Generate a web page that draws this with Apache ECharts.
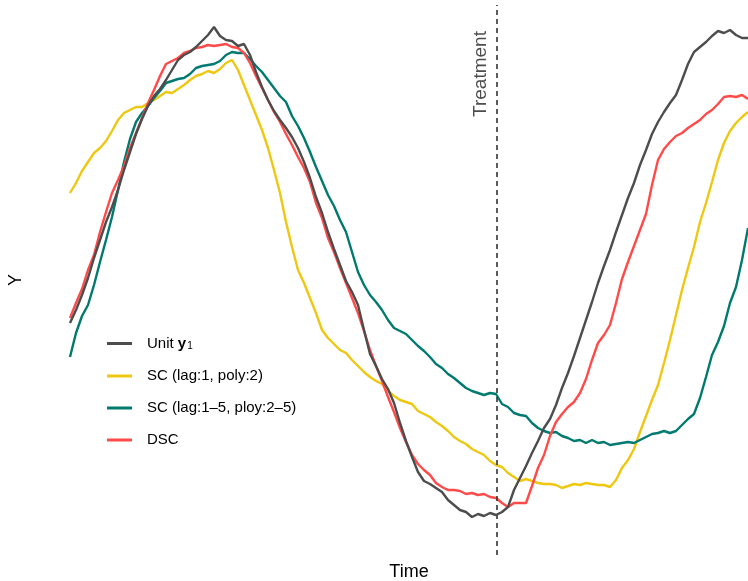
<!DOCTYPE html>
<html>
<head>
<meta charset="utf-8">
<script src="https://cdn.jsdelivr.net/npm/echarts@6/dist/echarts.min.js"></script>
<style>
  html, body { margin: 0; padding: 0; background: #fff; }
  #chart { width: 748px; height: 581px; }
</style>
</head>
<body>
<div id="chart"></div>
<script>
// time index: one step per sample, treatment happens at t ~ 71.2
const timeMax = 113;
const treatmentTime = 71.2;

const seriesNames = ['Unit y1', 'SC (lag:1, poly:2)', 'SC (lag:1\u20135, ploy:2\u20135)', 'DSC'];
const seriesColors = ['#4d4d4d', '#eec710', '#007a70', '#ff4a4a'];

// Unit y1 (observed)
const unitY = [
  232, 245, 260, 277, 297, 315, 333, 348, 365, 385,
  403, 421, 436, 449, 459, 466, 475, 485, 495, 500,
  503, 508, 514, 520, 528, 519, 515, 514, 509, 511,
  500, 483, 468, 455, 444, 435, 427, 418, 407, 393,
  377, 358, 342, 323, 306, 290, 274, 263, 250, 225,
  201, 189, 176, 166, 152, 132, 114, 98, 83, 74,
  71, 67, 63, 55, 50, 45, 43, 38, 41, 39,
  42, 40, 43, 48, 65, 77, 89, 102, 114, 127,
  136, 150, 167, 182, 199, 217, 235, 253, 272, 289,
  305, 323, 340, 357, 372, 390, 405, 421, 433, 443,
  452, 460, 475, 491, 503, 508, 513, 519, 524, 522,
  525, 520, 517, 517
];

// SC (lag:1, poly:2)
const scSimple = [
  362, 372, 384, 393, 402, 407, 414, 424, 435, 442,
  445, 448, 448, 452, 455, 459, 463, 462, 466, 470,
  475, 479, 481, 484, 482, 486, 492, 495, 485, 470,
  455, 440, 425, 407, 385, 362, 333, 308, 285, 272,
  257, 242, 225, 217, 211, 205, 202, 195, 189, 183,
  178, 174, 171, 164, 159, 155, 153, 151, 144, 141,
  138, 133, 129, 124, 118, 114, 111, 106, 103, 100,
  94, 90, 88, 82, 78, 74, 76, 74, 72, 71,
  71, 70, 67, 69, 71, 70, 72, 71, 70, 70,
  68, 75, 87, 95, 106, 123, 139, 155, 170, 192,
  215, 240, 265, 287, 308, 333, 352, 373, 395, 412,
  424, 432, 438, 443
];

// SC (lag:1-5, ploy:2-5)
const scFull = [
  198, 222, 239, 250, 270, 293, 315, 338, 365, 393,
  416, 433, 442, 449, 457, 464, 472, 474, 476, 477,
  481, 487, 489, 490, 491, 494, 500, 503, 502, 502,
  496, 489, 483, 475, 467, 459, 453, 439, 429, 417,
  403, 388, 374, 360, 349, 335, 323, 303, 283, 270,
  260, 253, 245, 235, 227, 224, 221, 215, 209, 204,
  198, 191, 187, 181, 177, 172, 167, 164, 162, 160,
  162, 161, 151, 148, 142, 140, 139, 132, 127, 124,
  122, 123, 119, 117, 114, 115, 112, 115, 112, 113,
  110, 111, 112, 113, 112, 115, 118, 121, 122, 124,
  122, 124, 130, 136, 141, 157, 178, 200, 213, 229,
  252, 268, 295, 327
];

// DSC
const dsc = [
  237, 252, 266, 285, 300, 323, 343, 362, 375, 389,
  407, 422, 437, 452, 465, 479, 491, 494, 497, 502,
  504, 507, 508, 510, 509, 510, 511, 508, 507, 502,
  492, 479, 467, 455, 443, 433, 421, 410, 398, 387,
  373, 352, 337, 317, 303, 287, 272, 257, 242, 224,
  205, 189, 174, 158, 143, 127, 113, 100, 91, 85,
  80, 72, 68, 65, 65, 64, 61, 62, 60, 61,
  58, 57, 52, 48, 52, 52, 52, 69, 87, 100,
  119, 133, 141, 148, 153, 162, 176, 195, 212, 220,
  230, 252, 276, 293, 309, 325, 341, 370, 395, 406,
  413, 419, 422, 427, 431, 435, 441, 445, 451, 458,
  459, 458, 460, 456
];

const seriesValues = [unitY, scSimple, scFull, dsc];

const chart = echarts.init(document.getElementById('chart'), null, { renderer: 'canvas' });
const FONT = '"Liberation Sans", Arial, Helvetica, sans-serif';

const series = seriesValues.map((vals, k) => ({
  name: seriesNames[k],
  type: 'line',
  data: vals.map((v, i) => [i, v]),
  symbol: 'none',
  smooth: false,
  animation: false,
  lineStyle: { color: seriesColors[k], width: 2.4 },
  itemStyle: { color: seriesColors[k] },
  z: k === 0 ? 5 : 3
}));

// treatment marker on the first series
series[0].markLine = {
  silent: true,
  symbol: 'none',
  animation: false,
  label: { show: false },
  lineStyle: { color: '#333', width: 1.6, type: [5, 4] },
  data: [{ xAxis: treatmentTime }]
};

const option = {
  backgroundColor: '#fff',
  animation: false,
  grid: { left: 70, right: 0, top: 5, bottom: 26, outerBoundsMode: 'none' },
  xAxis: {
    type: 'value', min: 0, max: timeMax,
    name: 'Time', nameLocation: 'middle', nameGap: 8,
    nameTextStyle: { fontFamily: FONT, fontSize: 18, color: '#000' },
    axisLine: { show: false }, axisTick: { show: false },
    axisLabel: { show: false }, splitLine: { show: false }
  },
  yAxis: {
    type: 'value', min: 0, max: 550,
    name: 'Y', nameLocation: 'middle', nameGap: 45, nameRotate: 90,
    nameTextStyle: { fontFamily: FONT, fontSize: 18, color: '#000' },
    axisLine: { show: false }, axisTick: { show: false },
    axisLabel: { show: false }, splitLine: { show: false }
  },
  legend: {
    orient: 'vertical',
    left: 102, top: 331,
    icon: 'rect',
    itemWidth: 25, itemHeight: 3,
    itemGap: 17,
    data: seriesNames,
    formatter: name => name === 'Unit y1' ? '{n|Unit }{b|y}{s|1}' : name,
    textStyle: {
      fontFamily: FONT, fontSize: 15, color: '#000', padding: [0, 0, 0, 10],
      rich: {
        n: { fontFamily: FONT, fontSize: 15, color: '#000' },
        b: { fontFamily: FONT, fontSize: 15, fontWeight: 'bold', color: '#000' },
        s: { fontFamily: FONT, fontSize: 10, color: '#000', padding: [6, 0, 0, 1] }
      }
    }
  },
  graphic: [{
    type: 'text',
    x: 481, y: 74,
    rotation: Math.PI / 2,
    style: {
      text: 'Treatment', fontFamily: FONT, fontSize: 19, fill: '#4d4d4d',
      align: 'center', verticalAlign: 'middle'
    }
  }],
  series: series
};

chart.setOption(option);
</script>
</body>
</html>
